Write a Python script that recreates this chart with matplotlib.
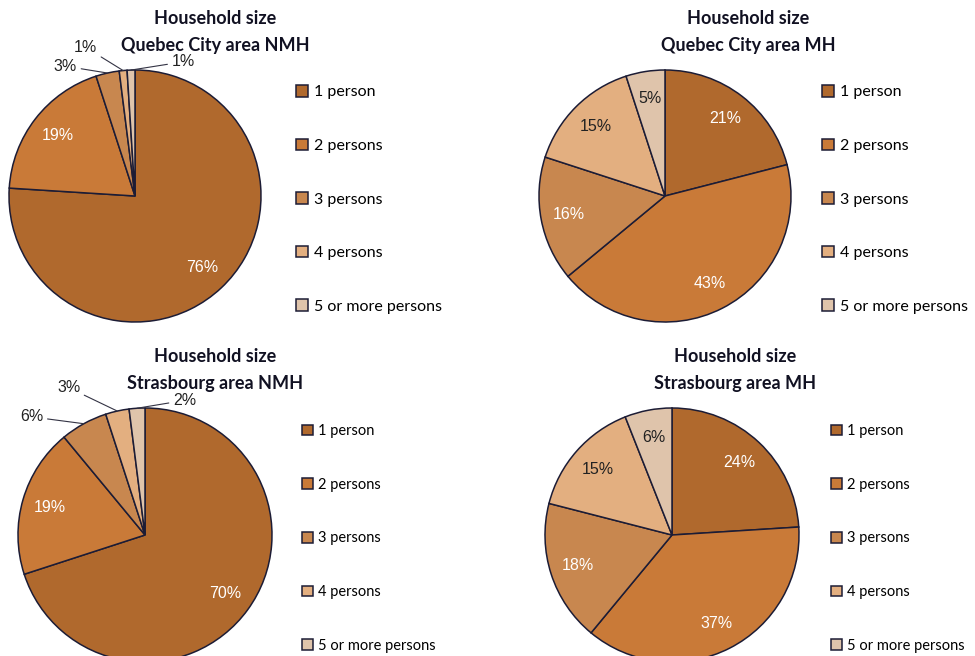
import numpy as np
import matplotlib
matplotlib.use('Agg')
import matplotlib.pyplot as plt

# categories and values
categories = ['1 person', '2 persons', '3 persons', '4 persons', '5 or more persons']
quebec_nmh = [76, 19, 3, 1, 1]
quebec_mh = [21, 43, 16, 15, 5]
strasbourg_nmh = [70, 19, 6, 3, 2]
strasbourg_mh = [24, 37, 18, 15, 6]

colors = ['#b0692d', '#c97a38', '#c8874f', '#e3af80', '#dfc4ab']
edge = '#1c1c35'
W, H = 975, 656

fig = plt.figure(figsize=(W / 100, H / 100), dpi=100)


def px_axes(cx, cy, r):
    return fig.add_axes([(cx - r) / W, 1 - (cy + r) / H, 2 * r / W, 2 * r / H])


def draw_pie(values, cx, cy, r, title_lines, title_x, title_y, leg_x, leg_y, leg_fs,
             leg_space, inside_colors, outside=None):
    ax = px_axes(cx, cy, r)
    wedges, _ = ax.pie(values, colors=colors, startangle=90, counterclock=False,
                       radius=1, wedgeprops=dict(edgecolor=edge, linewidth=1.1))
    ax.set_xlim(-1, 1)
    ax.set_ylim(-1, 1)
    ax.axis('off')
    outside = outside or {}
    for i, (w, v) in enumerate(zip(wedges, values)):
        mid = np.deg2rad((w.theta1 + w.theta2) / 2)
        if i in outside:
            tx, ty, ha = outside[i]
            ax.annotate(f'{v}%', xy=(np.cos(mid), np.sin(mid)), xytext=(tx, ty),
                        ha=ha, va='center', fontsize=11.5, color='#222222',
                        family='Liberation Sans',
                        arrowprops=dict(arrowstyle='-', color='#333344', lw=0.8,
                                        shrinkA=1, shrinkB=0))
        else:
            d = 0.78
            ax.text(d * np.cos(mid), d * np.sin(mid), f'{v}%', ha='center', va='center',
                    fontsize=11.5, color=inside_colors[i], family='Liberation Sans')
    for k, line in enumerate(title_lines):
        fig.text(title_x / W, 1 - (title_y + 27 * k) / H, line, ha='center', va='center',
                 fontsize=13, fontweight='bold', family='Lato', color='#111122')
    fig.legend(wedges, categories, loc='upper left',
               bbox_to_anchor=(leg_x / W, 1 - leg_y / H), frameon=False,
               handlelength=0.75, handleheight=0.75, handletextpad=0.35,
               labelspacing=leg_space,
               prop=dict(family='Lato', size=leg_fs), borderpad=0, borderaxespad=0)
    return ax


light = ['white', 'white', 'white', '#222222', '#222222']

draw_pie(quebec_nmh, 135, 196, 126, ['Household size', 'Quebec City area NMH'],
         215, 19, 296, 85, 11.5, 2.45, light,
         outside={2: (-0.46, 1.03, 'right'), 3: (-0.30, 1.18, 'right'), 4: (0.29, 1.065, 'left')})
draw_pie(quebec_mh, 665, 196, 126, ['Household size', 'Quebec City area MH'],
         748, 19, 822, 85, 11.5, 2.45, light)
draw_pie(strasbourg_nmh, 145, 535, 127, ['Household size', 'Strasbourg area NMH'],
         215, 357, 302, 424, 10.5, 2.72, light,
         outside={2: (-0.80, 0.93, 'right'), 3: (-0.51, 1.16, 'right'), 4: (0.22, 1.06, 'left')})
draw_pie(strasbourg_mh, 672, 535, 127, ['Household size', 'Strasbourg area MH'],
         735, 357, 831, 424, 10.5, 2.72, light)

fig.savefig('out.png', dpi=100, facecolor='white')
